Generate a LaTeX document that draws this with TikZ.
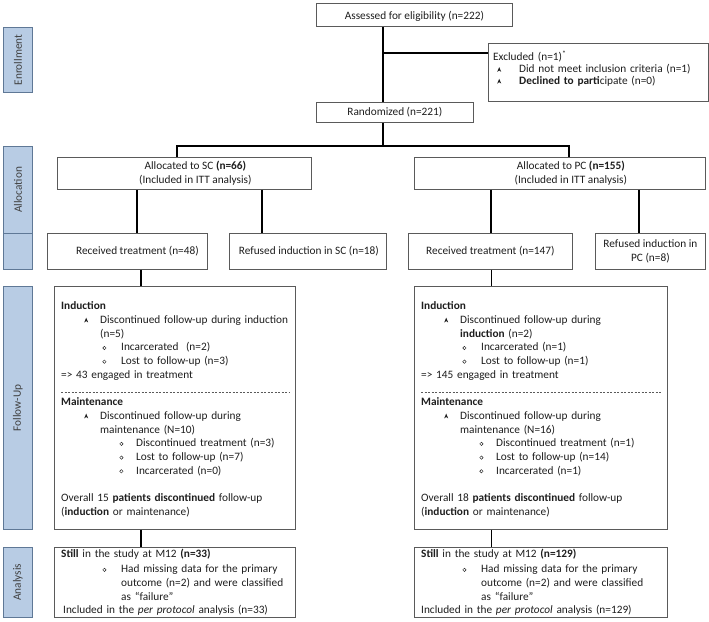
\documentclass[tikz,border=0pt]{standalone}
\usepackage{fontspec}
\setmainfont{Carlito}
\definecolor{textcol}{RGB}{30,30,30}
\definecolor{boxgray}{RGB}{90,90,90}
\definecolor{sidefill}{RGB}{184,204,228}
\definecolor{sideborder}{RGB}{95,120,150}
\newcommand\fs{\fontsize{11.3}{13.7}\selectfont}
\newcommand\fsx{\fontsize{11.3}{11.7}\selectfont}
\newcommand\abul{\tikz[baseline=0pt,x=1pt,y=1pt]\fill[textcol] (0,1)--(2,5.8)--(4,1)--(2,2.4)--cycle;}
\newcommand\cbul{\tikz[baseline=0pt,x=1pt,y=1pt]\draw[textcol,line width=0.45pt] (1.8,2.9) circle (1.7);}
\newcommand\la[1]{\makebox[39pt][l]{\hspace*{23pt}\abul}#1}
\newcommand\lc[1]{\hspace*{39pt}#1}
\newcommand\lb[1]{\makebox[60pt][l]{\hspace*{41.3pt}\cbul}#1}
\newcommand\ld[1]{\makebox[75pt][l]{\hspace*{58.3pt}\cbul}#1}
\begin{document}
\begin{tikzpicture}[x=1pt,y=-1pt,
  box/.style={draw=boxgray, line width=0.8pt, fill=white, inner sep=0pt, anchor=north west},
  side/.style={draw=sideborder, fill=sidefill, line width=0.8pt, inner sep=0pt, anchor=north west},
  sidetxt/.style={rotate=90, inner sep=0pt, font=\fs, text=textcol!85},
  conn/.style={line width=1.6pt, black},
  txt/.style={inner sep=0pt, font=\fs, text=textcol, align=center},
  ltxt/.style={inner sep=0pt, font=\fs, text=textcol, align=left, anchor=north west, text width=240pt},
  dashsep/.style={draw=boxgray, line width=0.5pt, dash pattern=on 2pt off 1.5pt}]
\useasboundingbox (0,0) rectangle (709,621);
% side labels
\node[side, minimum width=29pt, minimum height=65pt] (enr) at (3,27) {};
\node[side, minimum width=29pt, minimum height=87pt] (alc) at (3,146) {};
\node[side, minimum width=29pt, minimum height=36pt] (blk) at (3,233) {};
\node[side, minimum width=29pt, minimum height=243pt] (fup) at (3,286) {};
\node[side, minimum width=29pt, minimum height=70pt] (ana) at (3,547) {};
\node[sidetxt] (enrt) at (enr.center) {Enrollment};
\node[sidetxt] (alct) at (alc.center) {Allocation};
\node[sidetxt] (fupt) at (fup.center) {Follow-Up};
\node[sidetxt] (anat) at (ana.center) {Analysis};
% boxes
\node[box, minimum width=196pt, minimum height=23pt] (assess) at (316,3) {};
\node[box, minimum width=220pt, minimum height=58pt] (excl) at (488,43) {};
\node[box, minimum width=157pt, minimum height=20pt] (rand) at (316,102) {};
\node[box, minimum width=254pt, minimum height=32pt] (allocSC) at (57,157) {};
\node[box, minimum width=291pt, minimum height=32pt] (allocPC) at (414,157) {};
\node[box, minimum width=160pt, minimum height=36pt] (recSC) at (47,233) {};
\node[box, minimum width=157pt, minimum height=36pt] (refSC) at (229,233) {};
\node[box, minimum width=164pt, minimum height=36pt] (recPC) at (408,233) {};
\node[box, minimum width=110pt, minimum height=36pt] (refPC) at (595,233) {};
\node[box, minimum width=241pt, minimum height=243pt] (fuSC) at (54,286) {};
\node[box, minimum width=253pt, minimum height=243pt] (fuPC) at (414,286) {};
\node[box, minimum width=241pt, minimum height=70pt] (anSC) at (54,547) {};
\node[box, minimum width=253pt, minimum height=70pt] (anPC) at (414,547) {};
% connectors
\coordinate (v0) at (383,0);
\coordinate (j1) at (383,53);
\coordinate (j2) at (383,146);
\coordinate (bL) at (177,146);
\coordinate (bR) at (569,146);
\coordinate (a1) at (137,0);
\coordinate (a2) at (262,0);
\coordinate (a3) at (491,0);
\coordinate (a4) at (639,0);
\coordinate (f1) at (141,0);
\coordinate (f2) at (491.5,0);
\draw[conn] (assess.south -| v0) -- (rand.north -| v0);
\draw[conn] (j1) -- (j1 -| excl.west);
\draw[conn] (rand.south -| v0) -- (j2);
\draw[conn] (allocSC.north -| bL) -- (bL) -- (bR) -- (allocPC.north -| bR);
\draw[conn] (allocSC.south -| a1) -- (recSC.north -| a1);
\draw[conn] (allocSC.south -| a2) -- (refSC.north -| a2);
\draw[conn] (allocPC.south -| a3) -- (recPC.north -| a3);
\draw[conn] (allocPC.south -| a4) -- (refPC.north -| a4);
\draw[conn] (recSC.south -| f1) -- (fuSC.north -| f1);
\draw[conn] (recPC.south -| f2) -- (fuPC.north -| f2);
\draw[conn] (fuSC.south -| f1) -- (anSC.north -| f1);
\draw[conn] (fuPC.south -| f2) -- (anPC.north -| f2);
% texts
\node[txt] (assesst) at ([yshift=-1pt]assess.center) {Assessed for eligibility (n=222)};
\node[txt] (randt) at (rand.center) {Randomized (n=221)};
\node[ltxt, font=\fsx] (exclt) at (493,50.3) {\strut Excluded (n=1)\textsuperscript{*}\\
\makebox[26pt][l]{\hspace*{4pt}\abul}Did not meet inclusion criteria (n=1)\\
\makebox[26pt][l]{\hspace*{4pt}\abul}\textbf{Declined to parti}cipate (n=0)};
\node[txt] (allocSCt) at ([xshift=11pt]allocSC.center) {Allocated to SC \textbf{(n=66)}\\(Included in ITT analysis)};
\node[txt] (allocPCt) at ([xshift=11pt]allocPC.center) {Allocated to PC \textbf{(n=155)}\\(Included in ITT analysis)};
\node[txt] (recSCt) at ([xshift=10pt]recSC.center) {Received treatment (n=48)};
\node[txt] (refSCt) at ([xshift=1pt]refSC.center) {Refused induction in SC (n=18)};
\node[txt] (recPCt) at (recPC.center) {Received treatment (n=147)};
\node[txt] (refPCt) at (refPC.center) {Refused induction in\\PC (n=8)};
\node[ltxt] (fuSCt) at (61,300) {\strut\textbf{Induction}\\
\la{Discontinued follow-up during induction}\\
\lc{(n=5)}\\
\lb{Incarcerated\ \ (n=2)}\\
\lb{Lost to follow-up (n=3)}\\
=> 43 engaged in treatment\\
\mbox{}\\
\textbf{Maintenance}\\
\la{Discontinued follow-up during}\\
\lc{maintenance (N=10)}\\
\ld{Discontinued treatment (n=3)}\\
\ld{Lost to follow-up (n=7)}\\
\ld{Incarcerated (n=0)}\\
\mbox{}\\
Overall 15 \textbf{patients discontinued} follow-up\\
(\textbf{induction} or maintenance)};
\node[ltxt] (fuPCt) at (421,300) {\strut\textbf{Induction}\\
\la{Discontinued follow-up during}\\
\lc{\textbf{induction} (n=2)}\\
\lb{Incarcerated (n=1)}\\
\lb{Lost to follow-up (n=1)}\\
=> 145 engaged in treatment\\
\mbox{}\\
\textbf{Maintenance}\\
\la{Discontinued follow-up during}\\
\lc{maintenance (N=16)}\\
\ld{Discontinued treatment (n=1)}\\
\ld{Lost to follow-up (n=14)}\\
\ld{Incarcerated (n=1)}\\
\mbox{}\\
Overall 18 \textbf{patients discontinued} follow-up\\
(\textbf{induction} or maintenance)};
\coordinate (dL1) at (61,392);
\coordinate (dL2) at (290,392);
\coordinate (dR1) at (421,392);
\coordinate (dR2) at (662,392);
\draw[dashsep] (dL1) -- (dL2);
\draw[dashsep] (dR1) -- (dR2);
\node[ltxt] (anSCt) at (61,548) {\strut\textbf{Still} in the study at M12 \textbf{(n=33)}\\[1.3pt]
\lb{Had missing data for the primary}\\
\hspace*{60pt}outcome (n=2) and were classified\\
\hspace*{60pt}as “failure”\\
\hspace*{2pt}Included in the \textit{per protocol} analysis (n=33)};
\node[ltxt] (anPCt) at (421,548) {\strut\textbf{Still} in the study at M12 \textbf{(n=129)}\\[1.3pt]
\lb{Had missing data for the primary}\\
\hspace*{60pt}outcome (n=2) and were classified\\
\hspace*{60pt}as “failure”\\
Included in the \textit{per protocol} analysis (n=129)};
\end{tikzpicture}
\end{document}
